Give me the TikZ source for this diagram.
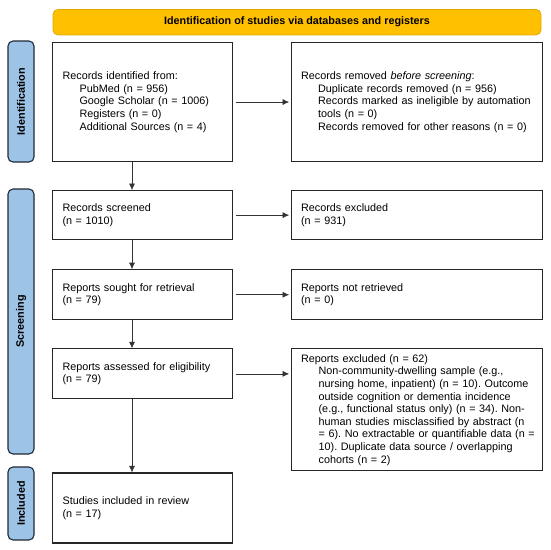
\documentclass[tikz,border=0pt]{standalone}
\usepackage{fontspec}
\setmainfont{Liberation Sans}
\usepackage{tikz}
\usetikzlibrary{arrows.meta,positioning}
\definecolor{prismaOro}{HTML}{FFC000}
\definecolor{prismaOroBorde}{HTML}{E0A900}
\definecolor{faseAzul}{HTML}{9DC3E6}
\definecolor{faseBorde}{HTML}{1E2A38}
\frenchspacing
\newcommand{\prismafont}{\fontsize{10.8}{12.6}\selectfont}
\newcommand{\sangria}{\hspace*{17pt}}
\newcommand{\linea}[1]{\hspace*{17.5pt}\mbox{#1}}
\tikzset{
  caja/.style={draw=black!85, line width=1.1pt, align=left, font=\prismafont, inner xsep=10pt, inner ysep=3pt},
  cajaizq/.style={caja, text width=160pt},
  cajader/.style={caja, text width=232pt, inner xsep=9.5pt},
  fase/.style={draw=faseBorde, fill=faseAzul, line width=1.1pt, rounded corners=5pt, rotate=90, font=\prismafont\bfseries, minimum height=26pt, inner sep=0pt},
  cabecera/.style={draw=prismaOroBorde, fill=prismaOro, line width=0.8pt, rounded corners=5pt, font=\prismafont\bfseries, minimum width=488pt, minimum height=25.5pt},
  flecha/.style={-{Latex[length=6.5pt,width=6pt]}, line width=0.6pt, draw=black!80},
  flechah/.style={flecha, shorten <=2.5pt, shorten >=2pt},
}
\begin{document}
\begin{tikzpicture}[node distance=28pt and 58pt]
\useasboundingbox (0,0) rectangle (550pt,-550pt);
\node[cabecera] (titulo) at (297pt,-22.2pt) {Identification of studies via databases and registers};
\node[fase, minimum width=121pt] (fid) at (21pt,-101.5pt) {Identification};
\node[fase, minimum width=265pt] (fcr) at (21pt,-321.5pt) {Screening};
\node[fase, minimum width=73pt] (fin) at (21pt,-503.5pt) {Included};
% left column
\node[cajaizq, minimum height=119pt, anchor=north west] (a) at (52pt,-42pt) {Records identified from:\\
  \sangria PubMed (n = 956)\\
  \sangria Google Scholar (n = 1006)\\
  \sangria Registers (n = 0)\\
  \sangria Additional Sources (n = 4)};
\node[cajaizq, minimum height=49pt, below=of a] (c) {Records screened\\(n = 1010)};
\node[cajaizq, minimum height=50pt, below=29pt of c] (e) {Reports sought for retrieval\\(n = 79)};
\node[cajaizq, minimum height=50pt, below=of e] (g) {Reports assessed for eligibility\\(n = 79)};
\node[cajaizq, minimum height=70pt, below=73pt of g] (i) {Studies included in review\\(n = 17)};
% right column
\node[cajader, minimum height=119pt, right=of a] (b) {Records removed \textit{before screening}:\\
  \sangria Duplicate records removed (n = 956)\\
  \sangria Records marked as ineligible by automation\\
  \sangria tools (n = 0)\\
  \sangria Records removed for other reasons (n = 0)};
\node[cajader, minimum height=49pt, right=of c] (d) {Records excluded\\(n = 931)};
\node[cajader, minimum height=50pt, right=of e] (f) {Reports not retrieved\\(n = 0)};
\node[cajader, minimum height=122pt, right=of g.north east, anchor=north west] (h) {Reports excluded (n = 62)\\
  \linea{Non-community-dwelling sample (e.g.,}\\
  \linea{nursing home, inpatient) (n = 10). Outcome}\\
  \linea{outside cognition or dementia incidence}\\
  \linea{(e.g., functional status only) (n = 34). Non-}\\
  \linea{human studies misclassified by abstract (n}\\
  \linea{= 6). No extractable or quantifiable data (n =}\\
  \linea{10). Duplicate data source / overlapping}\\
  \linea{cohorts (n = 2)}};
% arrows
\coordinate (eje) at (132pt,0);
\draw[flecha] (a.south -| eje) -- (c.north -| eje);
\draw[flecha] (c.south -| eje) -- (e.north -| eje);
\draw[flecha] (e.south -| eje) -- (g.north -| eje);
\draw[flecha] (g.south -| eje) -- (i.north -| eje);
\draw[flechah] (a.east) -- (a.east -| b.west);
\draw[flechah] (c.east) -- (c.east -| d.west);
\draw[flechah] (e.east) -- (e.east -| f.west);
\draw[flechah] (g.east) -- (g.east -| h.west);
\end{tikzpicture}
\end{document}
